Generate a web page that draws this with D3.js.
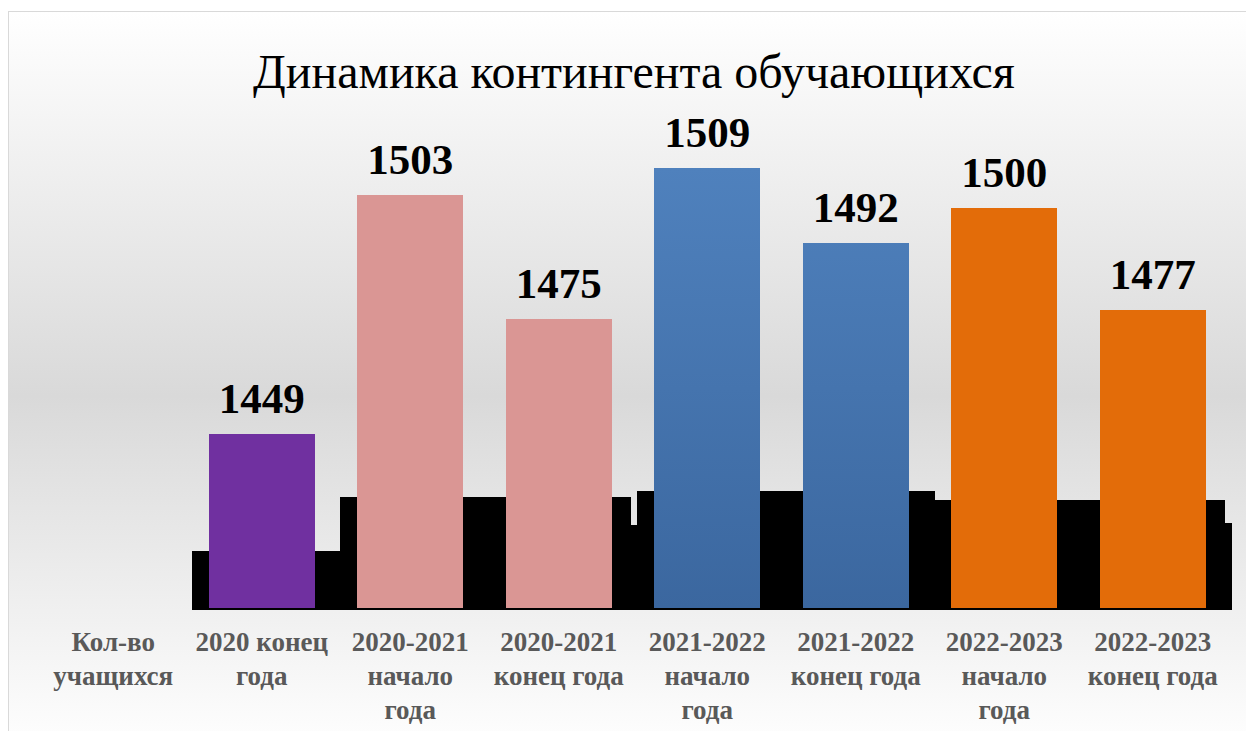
<!DOCTYPE html>
<meta charset="utf-8" />
<script src="https://d3js.org/d3.v7.min.js"></script>
<body style="margin:0;background:#fff">
<svg id="chart" width="1246" height="731" style="display:block"></svg>
<script>
/* ── DATA ── */
const categories = ["Кол-во учащихся","2020 конец года","2020-2021 начало года","2020-2021 конец года",
                    "2021-2022 начало года","2021-2022 конец года","2022-2023 начало года","2022-2023 конец года"];
const values     = [null, 1449, 1503, 1475, 1509, 1492, 1500, 1477];
const barColors  = ["none","#7030a0","#da9694","#da9694","url(#blueGrad)","url(#blueGrad)","#e36c09","#e36c09"];
// black "shadow" blocks behind the bars (group level + right-hand tail)
const shadowMain = [null, 1449, 1503, 1503, 1509, 1509, 1500, 1500];
const shadowTail = [null, 1449, 1503, 1475, 1509, 1509, 1500, 1477];
const title = "Динамика контингента обучающихся";

/* ── CONFIG ── */
const serif = "'Liberation Serif','Times New Roman',serif";

const svg = d3.select("#chart");
const defs = svg.append("defs");

const bg = defs.append("linearGradient").attr("id","bgGrad")
  .attr("x1",0).attr("y1",0).attr("x2",0).attr("y2",1);
bg.append("stop").attr("offset","0%").attr("stop-color","#ffffff");
bg.append("stop").attr("offset","52%").attr("stop-color","#d9d9d9");
bg.append("stop").attr("offset","100%").attr("stop-color","#ffffff");

const blue = defs.append("linearGradient").attr("id","blueGrad")
  .attr("gradientUnits","userSpaceOnUse").attr("x1",0).attr("y1",168).attr("x2",0).attr("y2",608);
blue.append("stop").attr("offset","0%").attr("stop-color","#4f81bd");
blue.append("stop").attr("offset","100%").attr("stop-color","#3b679f");

/* chart area */
svg.append("rect").attr("x",8.5).attr("y",11.5).attr("width",1260).attr("height",740)
  .attr("fill","url(#bgGrad)").attr("stroke","#d9d9d9").attr("stroke-width",1);

svg.append("text").attr("x",634).attr("y",88).attr("text-anchor","middle")
  .attr("font-family",serif).attr("font-size",48).attr("fill","#000").text(title);

/* scales */
const x = d3.scaleBand().domain(categories).range([39,1227]).paddingInner(0.286).paddingOuter(0.143);
const y = d3.scaleLinear().domain([1409.75,1520]).range([608,119.3]);
const ys = d3.scaleLinear().domain([1390,1510]).range([610,490]);   // shadow scale

const data = categories.map((c,i)=>({c,v:values[i],col:barColors[i],sm:shadowMain[i],st:shadowTail[i]}))
  .filter(d=>d.v!=null);
const cx = d=>x(d.c)+x.bandwidth()/2;

/* shadows */
const sh = svg.append("g").attr("fill","#000").attr("shape-rendering","crispEdges");
sh.selectAll("rect.main").data(data).join("rect").attr("class","main")
  .attr("x",d=>cx(d)-70).attr("width",142)
  .attr("y",d=>ys(d.sm)).attr("height",d=>ys(1390)-ys(d.sm));
sh.selectAll("rect.tail").data(data).join("rect").attr("class","tail")
  .attr("x",d=>cx(d)+71).attr("width",8.5)
  .attr("y",d=>ys(d.st)).attr("height",d=>ys(1390)-ys(d.st));

/* bars */
svg.append("g").attr("shape-rendering","crispEdges").selectAll("rect").data(data).join("rect")
  .attr("x",d=>x(d.c)).attr("width",x.bandwidth())
  .attr("y",d=>y(d.v)).attr("height",d=>y.range()[0]-y(d.v))
  .attr("fill",d=>d.col);

/* value labels */
svg.append("g").selectAll("text").data(data).join("text")
  .attr("x",cx).attr("y",d=>y(d.v)-21).attr("text-anchor","middle")
  .attr("font-family",serif).attr("font-weight","bold").attr("font-size",43).attr("fill","#000")
  .text(d=>d.v);

/* category axis labels */
const lab = svg.append("g").attr("font-family",serif).attr("font-weight","bold")
  .attr("font-size",27).attr("fill","#595959").attr("text-anchor","middle");
categories.forEach(c=>{
  const t = lab.append("text").attr("x",x(c)+x.bandwidth()/2).attr("y",651);
  wrap(t,c,137);
});

function wrap(textSel,str,width){
  const words=str.split(/\s+/);
  let line=[], tspan=textSel.append("tspan").attr("x",textSel.attr("x"));
  words.forEach(w=>{
    line.push(w); tspan.text(line.join(" "));
    if(tspan.node().getComputedTextLength()>width && line.length>1){
      line.pop(); tspan.text(line.join(" "));
      line=[w]; tspan=textSel.append("tspan").attr("x",textSel.attr("x")).attr("dy",34).text(w);
    }
  });
}
</script>
</body>
